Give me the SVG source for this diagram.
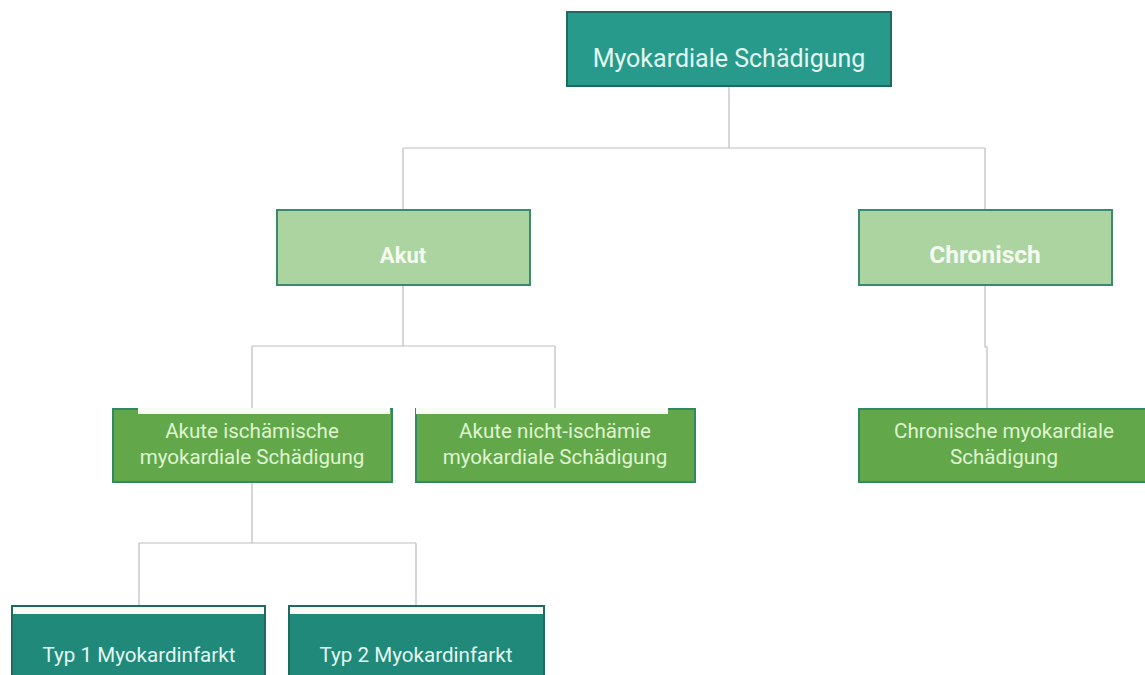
<svg xmlns="http://www.w3.org/2000/svg" width="1145" height="675" viewBox="0 0 1145 675">
<style>
.t{font-family:Roboto,"Liberation Sans",sans-serif;text-anchor:middle}
.s{font-size:20.6px}
.teal{fill:#279a8b;stroke:#1d6b5f;stroke-width:2}
.teal2{fill:#20897a;stroke:#1d6b5f;stroke-width:2}
.light{fill:#acd4a0;stroke:#3a8a72;stroke-width:2}
.mid{fill:#62a84b;stroke:#2f8a63;stroke-width:2}
.strip{fill:#f7fbf3}
.c{stroke:#bdbdbd;stroke-width:1.2;fill:none}
</style>
<rect width="1145" height="675" fill="#ffffff"/>
<g id="connectors">
<path class="c" d="M729 86V148M403 148H985M403 148V209M985 148V209"/>
<path class="c" d="M403 285V346M252 346H555M252 346V408M555 346V408"/>
<path class="c" d="M985 285V347H987V408"/>
<path class="c" d="M252 482V543M139 543H416M139 543V605M416 543V605"/>
</g>
<g id="n-root">
<rect class="teal" x="567" y="12" width="324" height="74"/>
<text class="t" x="729" y="67" font-size="25" fill="#e3f7f1">Myokardiale Schädigung</text>
</g>
<g id="n-akut">
<rect class="light" x="277" y="210" width="253" height="75"/>
<text class="t" x="403" y="263" font-size="22" font-weight="bold" fill="#f4fbef">Akut</text>
</g>
<g id="n-chronisch">
<rect class="light" x="859" y="210" width="253" height="75"/>
<text class="t" x="985" y="263" font-size="24.5" font-weight="bold" fill="#f4fbef">Chronisch</text>
</g>
<g id="n-akut-isch">
<rect class="mid" x="113" y="409" width="279" height="73"/>
<rect class="strip" x="138" y="408" width="252" height="6"/>
<text class="t s" x="252" y="438" fill="#dff5cf">Akute ischämische</text>
<text class="t s" x="252" y="464" fill="#dff5cf">myokardiale Schädigung</text>
</g>
<g id="n-akut-nicht">
<rect class="mid" x="416" y="409" width="279" height="73"/>
<rect class="strip" x="416" y="408" width="252" height="6"/>
<text class="t s" x="555" y="438" fill="#dff5cf">Akute nicht-ischämie</text>
<text class="t s" x="555" y="464" fill="#dff5cf">myokardiale Schädigung</text>
</g>
<g id="n-chron-myo">
<rect class="mid" x="859" y="409" width="290" height="73"/>
<text class="t s" x="1004" y="438" fill="#dff5cf">Chronische myokardiale</text>
<text class="t s" x="1004" y="464" fill="#dff5cf">Schädigung</text>
</g>
<g id="n-typ1">
<rect class="teal2" x="12" y="606" width="253" height="75"/>
<rect class="strip" x="13" y="607" width="251" height="7"/>
<text class="t s" x="139" y="662" fill="#e3f7f1">Typ 1 Myokardinfarkt</text>
</g>
<g id="n-typ2">
<rect class="teal2" x="289" y="606" width="255" height="75"/>
<rect class="strip" x="290" y="607" width="253" height="7"/>
<text class="t s" x="416" y="662" fill="#e3f7f1">Typ 2 Myokardinfarkt</text>
</g>
</svg>
